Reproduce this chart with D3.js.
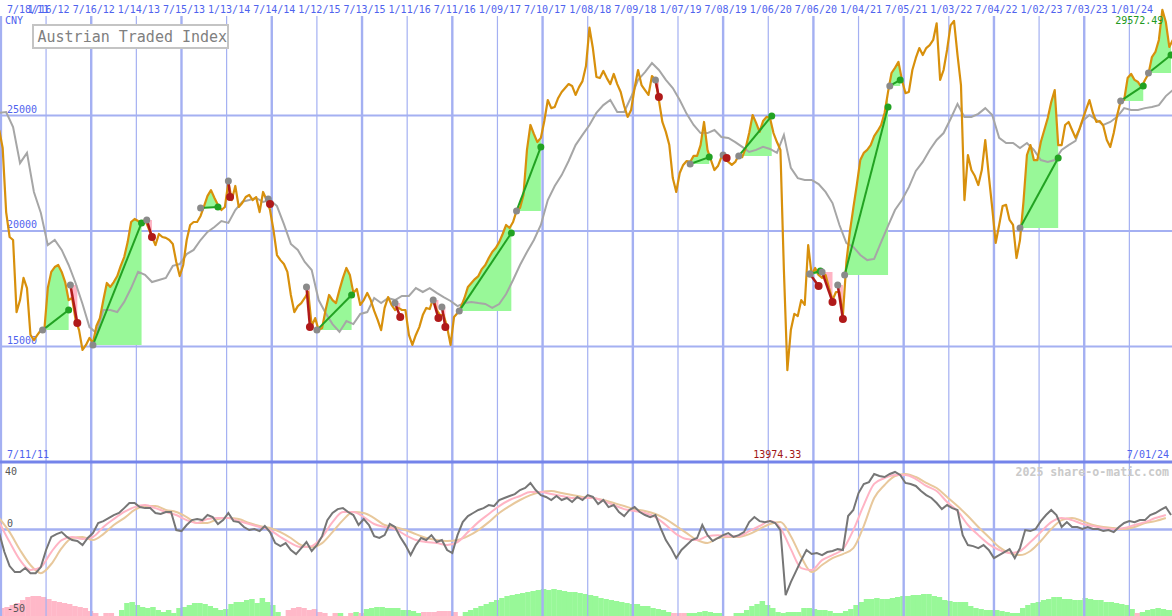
<!DOCTYPE html>
<html><head><meta charset="utf-8">
<script src="https://cdn.jsdelivr.net/npm/d3@7"></script>
<style>body{margin:0;background:#fff}svg{display:block}</style>
</head><body><svg id="c" width="1172" height="616"></svg>
<script>
// ---------------- DATA ----------------
const title = "Austrian Traded Index";
const currency = "CNY";
const credit = "2025 share-o-matic.com";
const startDate = "7/11/11";
const endDate = "7/01/24";
const tickLabels = ["7/18/11","1/16/12","7/16/12","1/14/13","7/15/13","1/13/14","7/14/14","1/12/15","7/13/15","1/11/16","7/11/16","1/09/17","7/10/17","1/08/18","7/09/18","1/07/19","7/08/19","1/06/20","7/06/20","1/04/21","7/05/21","1/03/22","7/04/22","1/02/23","7/03/23","1/01/24"];
const priceTicks = [15000, 20000, 25000];
const oscTicks = [40, 0, -50];

// weekly-close index, one value every 2 weeks from startDate
const priceStepDays = 14;
const price = [24370,23590,20820,19740,19610,16490,17010,17970,17530,15500,
15280,15500,15710,15710,17530,18230,18440,18530,18230,17790,
17010,17100,16150,15710,14850,15070,15370,15150,15890,16230,
17010,17750,17580,17790,18050,18490,18870,19520,20390,20520,
20430,20390,20480,20130,19740,19390,19870,19740,19700,19610,
19440,18660,18050,18530,19610,20260,20390,20390,20650,21080,
21520,21770,21430,21130,20910,21040,22120,21340,21950,21040,
21210,21470,21560,21340,21470,20820,21690,21340,20910,20040,
18960,18740,18570,18230,17230,16490,16750,16880,17100,17360,
15890,16230,15710,15800,16580,17230,17010,16880,17450,17970,
18400,18100,17320,17490,16800,17010,17320,17010,16540,16150,
15710,16670,17140,16800,16580,16670,16580,16580,15500,15070,
15500,15840,16360,16670,16620,17100,16580,16360,16360,15840,
15070,16280,16450,16710,17100,17580,17750,17920,18050,18350,
18530,18830,19090,19260,19520,19870,20260,20130,20390,20870,
21000,21560,23510,24590,24200,23850,24030,24760,25670,25320,
25370,25760,26020,26190,26360,26280,25890,26230,26490,27140,
28800,27900,26670,26620,26930,26620,26360,26800,26360,26020,
25410,24940,25240,26190,26970,26320,26100,25890,26710,26540,
25670,24720,24290,23720,22290,21690,22510,22860,23030,22990,
23250,23250,23720,24720,23510,23070,22640,22810,23200,23160,
22990,22860,22990,23290,23200,23590,24240,25020,24680,24290,
24760,24940,24890,24240,23850,23510,18310,13974.33,15710,16410,
16320,17010,16800,19390,18100,18400,18100,17970,18100,17530,
17010,17360,17360,16360,18660,19960,21000,21990,23070,23380,
23510,23720,24110,24330,24590,25110,26020,26840,27060,27320,
26540,25970,26020,26970,27490,27920,27620,27920,28050,28270,
28990,26540,26970,27840,28900,29100,27620,26320,21340,23290,
22640,22380,21990,22640,23940,22420,21000,19480,20260,21080,
21130,20480,20260,18830,19610,21260,23290,23720,23070,23070,
23850,24370,24890,25580,26100,23720,23720,24590,24720,24370,
24030,24370,24810,25240,25670,25110,24720,24760,24550,23940,
23640,24240,25020,25630,25670,26620,26800,26540,26450,26230,
26540,26800,27530,27750,28270,29572.49,29050,27970,28270];

// comparison average (grey), one value every 4 weeks
const avgStepDays = 28;
const average = [25110,25150,24500,22940,23380,21690,20780,19390,19610,19180,
18530,17750,16840,15840,15580,16580,16580,16490,16930,17530,
18230,18100,17790,17880,17970,18490,18570,19000,19180,19610,
19960,20170,20430,20350,20910,21260,21340,21430,21260,21340,
21080,20300,19440,19180,18660,18310,17010,16450,15970,15630,
16100,15970,16410,16490,17100,16880,17100,17010,17190,17190,
17530,17360,17530,17320,17140,16970,16750,16880,16930,16880,
16840,16670,16840,17270,17880,18530,19090,19610,20260,21340,
21950,22420,23030,23720,24160,24590,25110,25450,25670,25150,
25150,25800,26540,26880,27270,26970,26540,26190,25670,25070,
24590,24240,24240,24370,24070,24030,23850,23640,23420,23510,
23640,23550,23380,24160,22730,22290,22210,22210,22030,21690,
21210,20260,19480,19310,18960,18740,18790,19520,20220,20910,
21340,21900,22600,22990,23510,23940,24240,24850,25500,24940,
24940,25070,25320,25020,24030,23810,23810,23590,23810,23510,
23070,22990,23070,23510,23720,23900,24760,25020,24810,24590,
24720,24940,25320,25240,25240,25320,25370,25450,25840,26100];

// trend segments
const trendType  = ["up","down","up","down","up","down","down","down","up","down","down","down","up","up","down","up","down","up","up","down","down","down","up","up","up","up","up"];
const trendStart = ["1/02/12","4/23/12","7/23/12","2/25/13","9/30/13","1/20/14","6/30/14","12/01/14","1/12/15","11/23/15","4/25/16","5/30/16","8/08/16","3/27/17","10/08/18","2/25/19","7/08/19","9/09/19","6/22/20","6/22/20","8/10/20","10/12/20","11/09/20","5/10/21","10/17/22","11/27/23","3/18/24"];
const trendStartValue = [15710,17660,15070,20480,21000,22160,21390,17580,15710,16880,17010,16710,16540,20870,26540,22900,23290,23250,18140,18140,18230,17660,18100,26280,20130,25630,26840];
const trendEnd   = ["4/16/12","5/21/12","2/04/13","3/18/13","12/09/13","1/27/14","7/07/14","12/15/14","6/01/15","12/14/15","5/16/16","6/13/16","3/06/17","7/03/17","10/22/18","5/13/19","7/22/19","1/20/20","8/03/20","7/27/20","9/21/20","11/02/20","5/03/21","6/21/21","3/20/23","2/26/24","6/17/24"];
const trendEndValue = [16580,16020,20350,19740,21040,21470,21170,15840,17230,16280,16230,15840,19910,23640,25800,23200,23160,24980,18270,17620,16930,16190,25370,26540,23160,26280,27620];

// momentum oscillator (dark grey), one value every 3 weeks
const oscStepDays = 21;
const momentum = [-2.1,-13.3,-21.6,-25.2,-25.2,-22.8,-25.8,-25.8,-22.2,-12.1,
-4.4,-2.7,-1.5,-4.4,-6.2,-6.8,-9.2,-5.0,-2.1,3.9,
5.0,6.8,8.6,9.8,12.7,15.7,15.7,13.3,12.7,12.7,
9.8,9.2,10.4,10.4,-0.3,-0.9,2.7,5.6,6.2,5.6,
8.6,7.4,3.3,5.6,9.8,5.0,4.4,1.5,-0.3,0.3,
-0.9,2.1,-1.5,-8.0,-9.8,-8.0,-12.1,-14.5,-11.0,-7.4,
-12.7,-9.2,-3.9,5.6,9.8,12.1,12.7,10.4,8.6,2.7,
6.2,2.7,-3.9,-5.0,-3.3,3.3,1.5,-4.4,-9.2,-15.1,
-9.2,-5.0,-6.2,-3.3,-7.4,-6.2,-12.1,-13.9,-3.3,4.4,
8.0,9.8,11.6,12.7,14.5,13.9,17.5,18.7,19.9,21.0,
23.4,24.6,27.6,23.4,20.4,19.3,17.5,19.9,17.5,18.7,
16.3,19.3,17.5,20.4,19.3,15.1,17.5,13.3,14.5,10.4,
8.0,11.6,13.3,10.4,8.6,7.4,8.6,0.9,-6.2,-11.0,
-16.9,-12.1,-9.2,-6.2,-5.0,2.7,-3.3,-6.8,-5.0,-3.3,
-2.1,-4.4,-3.3,-1.5,4.4,7.4,5.0,4.4,5.0,3.9,
-0.3,-38.8,-31.1,-24.6,-18.1,-12.1,-14.5,-13.9,-15.1,-13.3,
-12.7,-11.6,-12.1,8.0,11.6,21.6,27.0,28.1,32.9,31.7,
31.1,32.9,34.1,32.3,27.6,27.0,25.8,22.8,20.4,18.7,
15.7,12.1,14.5,12.7,11.6,-3.3,-9.2,-9.8,-11.0,-9.2,
-12.1,-16.9,-15.1,-13.3,-11.6,-16.9,-11.0,-0.3,-0.9,0.3,
5.0,8.6,11.6,8.6,1.5,4.4,1.5,1.5,0.3,1.5,
0.3,0.3,-0.9,-0.3,-1.5,1.5,3.9,5.0,4.4,5.6,
5.6,8.6,9.8,11.6,13.3,8.6];

// smoothed oscillators (pink fast, tan slow), one value every 6 weeks
const smoothStepDays = 42;
const fastSignal = [4.4,-7.4,-18.1,-24.0,-22.2,-13.3,-6.2,-4.4,-5.6,-4.4,
1.5,6.2,10.4,13.3,14.5,12.7,10.4,8.6,5.6,3.9,
6.2,6.8,6.8,5.0,3.3,1.5,-0.3,-4.4,-8.0,-10.4,
-9.8,-4.4,4.4,10.4,10.4,7.4,3.3,1.5,0.3,-3.3,
-6.2,-7.4,-8.0,-9.2,-7.4,-1.5,4.4,9.2,13.9,17.5,
19.9,22.2,22.2,21.0,19.9,18.7,18.7,18.7,16.9,14.5,
12.1,11.0,9.8,7.4,2.7,-2.7,-5.6,-6.2,-3.9,-3.3,
-3.9,-3.9,-0.9,2.1,5.0,0.9,-11.6,-22.8,-24.0,-18.1,
-15.1,-11.6,-0.3,14.5,27.0,30.5,32.3,32.3,29.9,25.8,
22.8,16.3,11.0,2.7,-3.3,-8.6,-12.1,-13.9,-12.7,-7.4,
-1.5,4.4,6.8,5.6,3.3,2.1,0.9,0.3,0.9,2.7,
4.4,6.8,8.6];
const slowSignal = [6.8,-1.5,-12.1,-21.0,-25.8,-20.4,-11.0,-5.0,-4.4,-6.2,
-2.7,2.7,6.8,11.6,13.9,13.9,11.6,10.4,7.4,3.9,
3.9,6.2,6.8,6.2,3.9,2.1,0.9,-1.5,-5.0,-9.2,
-10.4,-8.0,-1.5,5.6,10.4,9.8,6.8,2.7,1.5,-0.3,
-2.7,-5.0,-6.2,-6.8,-6.2,-3.9,-0.3,4.4,9.8,13.9,
17.5,20.4,22.2,22.8,21.6,20.4,19.3,18.7,17.5,15.7,
13.9,12.1,11.0,9.2,6.2,2.1,-2.1,-6.2,-8.0,-5.0,
-4.4,-4.4,-2.7,0.3,3.3,4.4,-3.9,-16.3,-25.2,-21.0,
-16.9,-14.5,-11.0,2.1,18.7,26.4,31.7,32.9,31.1,27.6,
24.6,19.3,13.9,8.0,1.5,-4.4,-10.4,-13.9,-15.1,-12.7,
-6.8,0.3,5.6,6.8,5.0,2.7,1.5,0.9,0.3,1.5,
3.9,5.0,6.8];

// trend-strength histogram, one bar every 3 weeks (negative = pink)
const histStepDays = 21;
const strength = [-8,-9,-11,-13,-16,-19,-20,-20,-19,-17,
-15,-14,-13,-12,-10,-9,-8,-5,-3,0,
-3,-3,0,6,13,14,11,9,8,9,
6,4,6,3,8,9,11,13,13,12,
10,8,6,7,12,14,14,16,17,13,
18,14,11,4,0,-6,-8,-9,-8,-6,
-7,-4,-3,0,-3,3,0,-3,4,-3,
7,8,9,9,8,8,8,6,6,5,
3,-4,-4,-4,-5,-5,-5,-4,0,4,
6,8,10,12,14,16,18,20,21,22,
23,24,25,26,27,26,27,26,25,24,
24,23,22,21,20,18,17,16,15,14,
13,12,12,10,10,8,7,6,4,-3,
-3,-3,3,3,4,5,4,3,3,0,
0,3,3,6,10,12,15,11,8,4,
3,4,4,4,8,8,7,6,6,5,
3,3,5,7,11,14,17,17,18,17,
17,18,19,20,20,21,21,22,22,20,
19,16,15,14,14,14,10,8,7,6,
6,6,5,4,3,3,8,11,13,14,
16,17,19,19,17,17,16,16,18,17,
16,16,14,14,13,12,11,7,-3,4,
6,7,8,7,6,6];

// ---------------- DRAW ----------------
const W = 1172, H = 616;
const parse = d3.utcParse("%m/%d/%y");
const t0 = parse(startDate), t1 = parse(endDate);
const series = (arr, step) => arr.map((v, i) => ({d: d3.utcDay.offset(t0, i * step), v}));
const priceData = series(price, priceStepDays);
const avgData = series(average, avgStepDays);
const oscData = series(momentum, oscStepDays);
const fastData = series(fastSignal, smoothStepDays);
const slowData = series(slowSignal, smoothStepDays);
const histData = series(strength, histStepDays);

const x = d3.scaleUtc().domain([t0, t1]).range([-0.8, 1174.5]);
const y = d3.scaleLinear().domain([10000, 30000]).range([462, 0]);
const yo = d3.scaleLinear().domain([-50, 40]).range([614, 462]);
const yh = d3.scaleLinear().domain([0, 30]).range([616, 586]);

const svg = d3.select("#c");
const mono = "'DejaVu Sans Mono', monospace";
const gridC = "#a4b0f2", labC = "#4f63ee";

svg.append("rect").attr("width", W).attr("height", H).attr("fill", "#fff");

// histogram bars (bottom)
const hg = svg.append("g");
histData.forEach((p, i) => {
  if (p.v === 0) return;
  const x0 = x(p.d), x1 = x(d3.utcDay.offset(p.d, histStepDays));
  hg.append("rect").attr("x", x0).attr("width", x1 - x0 + 0.3)
    .attr("y", yh(Math.abs(p.v))).attr("height", H - yh(Math.abs(p.v)))
    .attr("fill", p.v > 0 ? "#98f898" : "#ffb8c8");
});

// vertical grid
const tickDates = tickLabels.map(parse);
tickDates.forEach((d, i) => {
  const thick = i % 2 === 0;
  svg.append("line").attr("x1", x(d)).attr("x2", x(d)).attr("y1", 16).attr("y2", H)
    .attr("stroke", gridC).attr("stroke-width", thick ? 2.4 : 1.2);
});
// horizontal grid main
priceTicks.forEach(v => {
  svg.append("line").attr("x1", 0).attr("x2", W).attr("y1", y(v)).attr("y2", y(v))
    .attr("stroke", gridC).attr("stroke-width", 2.2);
  svg.append("text").attr("x", 7).attr("y", y(v) - 3).text(v)
    .attr("font-family", mono).attr("font-size", 10).attr("fill", labC);
});
// osc zero line
svg.append("line").attr("x1", 0).attr("x2", W).attr("y1", yo(0)).attr("y2", yo(0))
  .attr("stroke", gridC).attr("stroke-width", 2.4);
// separator
svg.append("line").attr("x1", 0).attr("x2", W).attr("y1", 462).attr("y2", 462)
  .attr("stroke", "#7484ea").attr("stroke-width", 3);

// top date labels
tickDates.forEach((d, i) => {
  const t = svg.append("text").attr("y", 12.5).text(tickLabels[i])
    .attr("font-family", mono).attr("font-size", 10).attr("fill", labC);
  if (i === 0) t.attr("x", 7).attr("text-anchor", "start");
  else t.attr("x", x(d) + 2.5).attr("text-anchor", "middle");
});
svg.append("text").attr("x", 5).attr("y", 24).text(currency)
  .attr("font-family", mono).attr("font-size", 10).attr("fill", labC);

// trend fills
const bis = d3.bisector(p => p.d).left;
function priceAt(d) {
  const i = Math.min(Math.max(bis(priceData, d), 1), priceData.length - 1);
  const a = priceData[i - 1], b = priceData[i];
  const t = (d - a.d) / (b.d - a.d);
  return a.v + (b.v - a.v) * Math.max(0, Math.min(1, t));
}
const trends = trendType.map((tp, i) => ({
  up: tp === "up", s: parse(trendStart[i]), e: parse(trendEnd[i]),
  sv: trendStartValue[i], ev: trendEndValue[i]
}));
trends.forEach(t => {
  const pts = [{d: t.s, v: priceAt(t.s)}, ...priceData.filter(p => p.d > t.s && p.d < t.e), {d: t.e, v: priceAt(t.e)}];
  const area = d3.area().x(p => x(p.d)).y0(y(t.sv))
    .y1(p => y(t.up ? Math.max(p.v, t.sv) : Math.min(p.v, t.sv)));
  svg.append("path").attr("d", area(pts)).attr("fill", t.up ? "#98f898" : "#ffb4c4");
});

// average line
const line = d3.line().x(p => x(p.d)).y(p => y(p.v));
svg.append("path").attr("d", line(avgData)).attr("fill", "none")
  .attr("stroke", "#a6a6a6").attr("stroke-width", 2);
// price line
svg.append("path").attr("d", line(priceData)).attr("fill", "none")
  .attr("stroke", "#d8900c").attr("stroke-width", 2.2).attr("stroke-linejoin", "round");

// trend lines and dots
trends.forEach(t => {
  const c = t.up ? "#22a222" : "#b01a1a";
  svg.append("line").attr("x1", x(t.s)).attr("y1", y(t.sv)).attr("x2", x(t.e)).attr("y2", y(t.ev))
    .attr("stroke", c).attr("stroke-width", t.up ? 2 : 2.5);
});
trends.forEach(t => {
  svg.append("circle").attr("cx", x(t.s)).attr("cy", y(t.sv)).attr("r", 3.5).attr("fill", "#8a8a8a");
  svg.append("circle").attr("cx", x(t.e)).attr("cy", y(t.ev)).attr("r", t.up ? 3.5 : 4)
    .attr("fill", t.up ? "#22a222" : "#b01a1a");
});

// title box
svg.append("rect").attr("x", 33).attr("y", 25).attr("width", 195).attr("height", 23)
  .attr("fill", "#fff").attr("stroke", "#c4c4c4").attr("stroke-width", 2);
svg.append("text").attr("x", 37.5).attr("y", 41.5).text(title)
  .attr("font-family", mono).attr("font-size", 15).attr("fill", "#808080");

// max label
const maxP = priceData.reduce((a, b) => b.v > a.v ? b : a);
const minP = priceData.reduce((a, b) => b.v < a.v ? b : a);
svg.append("text").attr("x", x(maxP.d) + 1).attr("y", 24).attr("text-anchor", "end")
  .text(d3.format(".2f")(maxP.v)).attr("font-family", mono).attr("font-size", 10).attr("fill", "#229922");

// bottom label row
svg.append("text").attr("x", 7).attr("y", 458).text(startDate)
  .attr("font-family", mono).attr("font-size", 10).attr("fill", labC);
svg.append("text").attr("x", 1169).attr("y", 458).attr("text-anchor", "end").text(endDate)
  .attr("font-family", mono).attr("font-size", 10).attr("fill", labC);
svg.append("text").attr("x", x(minP.d) + 14).attr("y", 458).attr("text-anchor", "end")
  .text(d3.format(".2f")(minP.v)).attr("font-family", mono).attr("font-size", 10).attr("fill", "#a01414");

// oscillator lines
const oline = d3.line().x(p => x(p.d)).y(p => yo(p.v)).curve(d3.curveMonotoneX);
svg.append("path").attr("d", oline(slowData)).attr("fill", "none").attr("stroke", "#e8c89c").attr("stroke-width", 2);
svg.append("path").attr("d", oline(fastData)).attr("fill", "none").attr("stroke", "#ffb4c4").attr("stroke-width", 2);
svg.append("path").attr("d", d3.line().x(p => x(p.d)).y(p => yo(p.v))(oscData))
  .attr("fill", "none").attr("stroke", "#767676").attr("stroke-width", 2);

// oscillator labels
svg.append("text").attr("x", 5).attr("y", 475).text(oscTicks[0]).attr("font-family", mono).attr("font-size", 10).attr("fill", "#555");
svg.append("text").attr("x", 7).attr("y", yo(0) - 2.5).text(oscTicks[1]).attr("font-family", mono).attr("font-size", 10).attr("fill", "#555");
svg.append("text").attr("x", 7).attr("y", 612).text(oscTicks[2]).attr("font-family", mono).attr("font-size", 10).attr("fill", "#555");

// credit
svg.append("text").attr("x", 1169).attr("y", 475.5).attr("text-anchor", "end").text(credit)
  .attr("font-family", mono).attr("font-size", 11.6).attr("font-weight", "bold").attr("fill", "#cacaca");
</script>
</body></html>
